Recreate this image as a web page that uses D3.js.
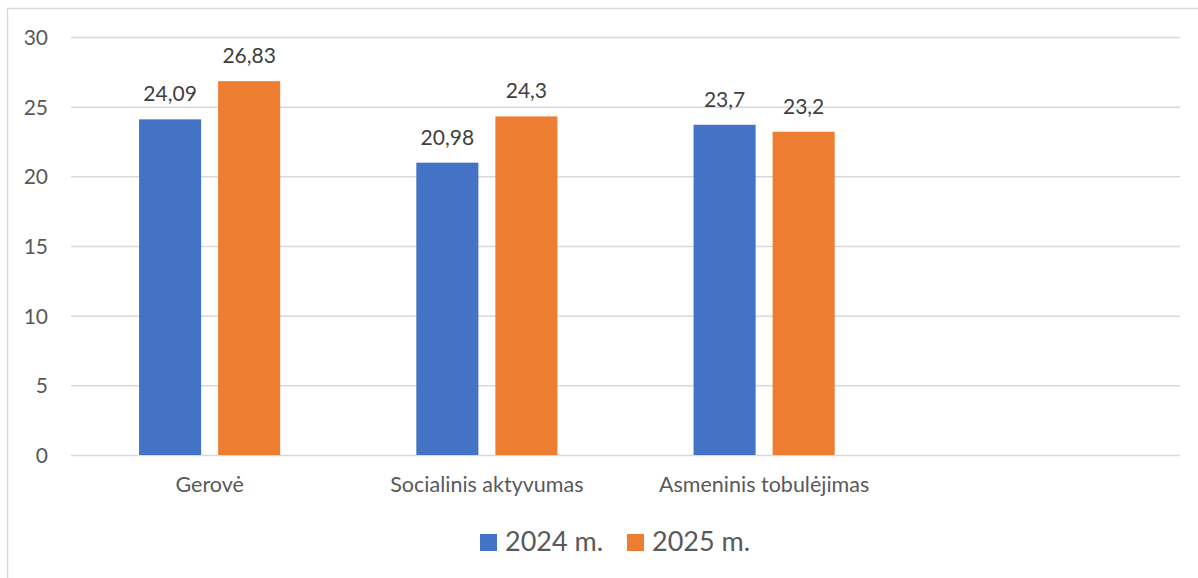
<!DOCTYPE html>
<html>
<head>
<meta charset="utf-8">
<script src="https://cdn.jsdelivr.net/npm/d3@7"></script>
<style>
    body { margin: 0; background: white; }
    svg { display: block; font-family: Lato, 'Open Sans', sans-serif; }
    .grid line { stroke: #d9d9d9; stroke-width: 1.5; }
    .grid path { display: none; }
    .yAxis path, .yAxis line, .xAxis path, .xAxis line { display: none; }
    .yAxis text { fill: #595959; font-size: 21px; font-family: Lato, sans-serif; }
    .xAxis text { fill: #595959; font-size: 21.5px; font-family: Lato, sans-serif; }
    .valText { fill: #404040; font-size: 21px; text-anchor: middle; }
    .legText { fill: #595959; font-size: 27px; }
</style>
</head>
<body>
<div id="chart"></div>
<script>
var categories = ['Gerovė', 'Socialinis aktyvumas', 'Asmeninis tobulėjimas', ''];
var seriesNames = ['2024 m.', '2025 m.'];
var values2024 = [24.09, 20.98, 23.7];
var values2025 = [26.83, 24.3, 23.2];
var valueLabels2024 = ['24,09', '20,98', '23,7'];
var valueLabels2025 = ['26,83', '24,3', '23,2'];
var yTicks = [0, 5, 10, 15, 20, 25, 30];
var colors = ['#4472C4', '#ED7D31'];

(function () {
    var width = 1198;
    var height = 578;
    var plotLeft = 71;
    var plotRight = 1180;
    var plotTop = 37;
    var plotBottom = 455;

    var svg = d3.select('#chart').append('svg')
        .attr('width', width)
        .attr('height', height);

    // chart frame (only left and top edges fall inside the picture)
    svg.append('path')
        .attr('d', `M7.5,${height}V8.5H${width}`)
        .attr('fill', 'none')
        .attr('stroke', '#d9d9d9')
        .attr('stroke-width', 1.5);

    var x0 = d3.scaleBand()
        .domain(categories)
        .range([plotLeft, plotRight])
        .paddingInner(0.491)
        .paddingOuter(0.2455);

    var x1 = d3.scaleBand()
        .domain(seriesNames)
        .range([0, x0.bandwidth()])
        .paddingInner(0.215);

    var y = d3.scaleLinear()
        .domain([0, 30])
        .range([plotBottom, plotTop]);

    svg.append('g')
        .attr('class', 'grid')
        .attr('transform', `translate(${plotLeft},0)`)
        .call(d3.axisLeft(y).tickValues(yTicks).tickSize(-(plotRight - plotLeft)).tickFormat(''));

    var yAxis = svg.append('g')
        .attr('class', 'yAxis')
        .attr('transform', `translate(${plotLeft},0)`)
        .call(d3.axisLeft(y).tickValues(yTicks).tickSize(0).tickPadding(23));
    yAxis.selectAll('text').attr('dy', '0.36em');

    var xAxis = svg.append('g')
        .attr('class', 'xAxis')
        .attr('transform', `translate(0,${plotBottom})`)
        .call(d3.axisBottom(x0).tickSize(0).tickPadding(24));
    xAxis.selectAll('text').attr('dy', '0.6em');

    var rows = categories.slice(0, values2024.length).map((c, i) => ({
        cat: c,
        vals: [
            { name: seriesNames[0], v: values2024[i], label: valueLabels2024[i], color: colors[0] },
            { name: seriesNames[1], v: values2025[i], label: valueLabels2025[i], color: colors[1] }
        ]
    }));

    var groups = svg.selectAll('g.group')
        .data(rows)
        .enter()
        .append('g')
        .attr('class', 'group')
        .attr('transform', d => `translate(${x0(d.cat)},0)`);

    groups.selectAll('rect')
        .data(d => d.vals)
        .enter()
        .append('rect')
        .attr('x', d => x1(d.name))
        .attr('y', d => y(d.v))
        .attr('width', x1.bandwidth())
        .attr('height', d => y(0) - y(d.v))
        .attr('fill', d => d.color);

    groups.selectAll('text.valText')
        .data(d => d.vals)
        .enter()
        .append('text')
        .attr('class', 'valText')
        .attr('x', d => x1(d.name) + x1.bandwidth() / 2)
        .attr('y', d => y(d.v) - 18)
        .text(d => d.label);

    // legend
    var legX = [480, 627];
    var legend = svg.selectAll('g.leg')
        .data(seriesNames)
        .enter()
        .append('g')
        .attr('class', 'leg')
        .attr('transform', (d, i) => `translate(${legX[i]},534)`);

    legend.append('rect')
        .attr('width', 17)
        .attr('height', 17)
        .attr('fill', (d, i) => colors[i]);

    legend.append('text')
        .attr('class', 'legText')
        .attr('x', 25)
        .attr('y', 17)
        .text(d => d);
})();
</script>
</body>
</html>
